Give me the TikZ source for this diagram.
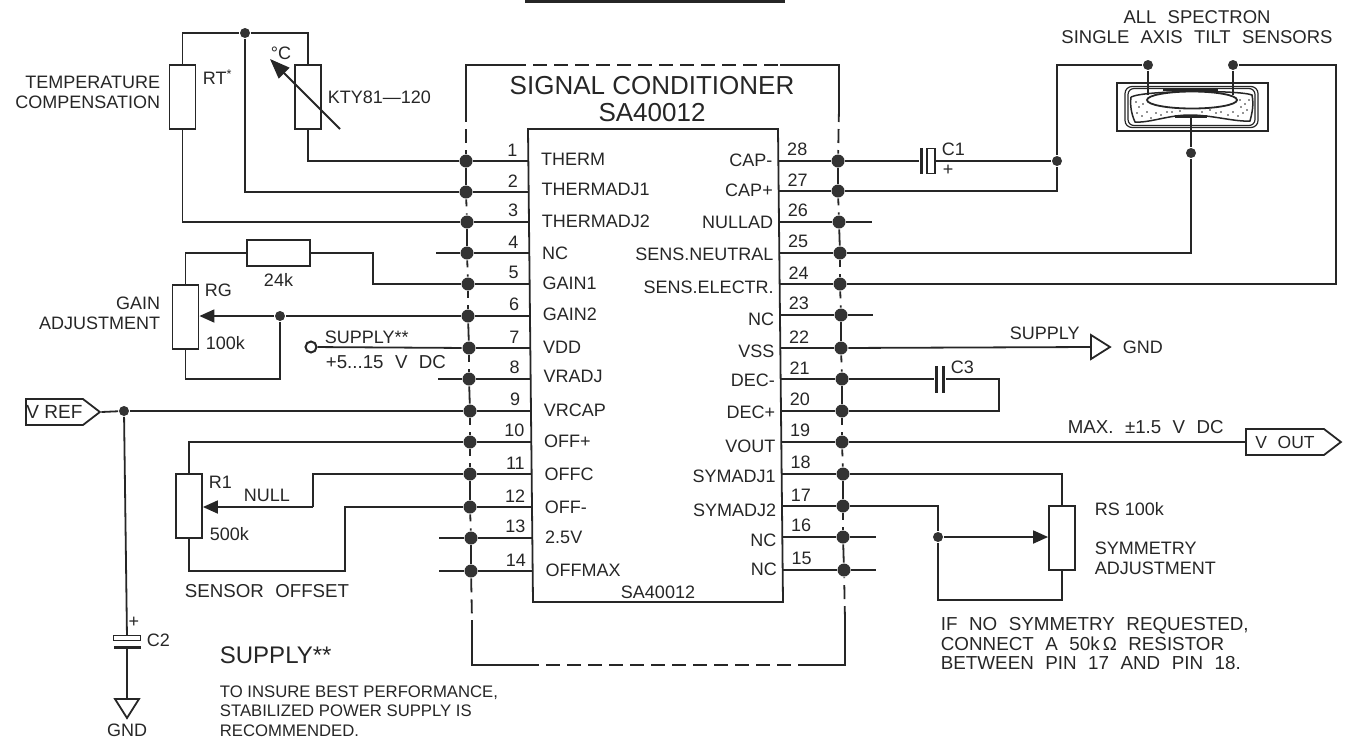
\documentclass[tikz,border=0pt]{standalone}
\usepackage{fontspec}
\setmainfont{Liberation Sans}
\newfontfamily\widefont[WordSpace=2.2]{Liberation Sans}
\usetikzlibrary{positioning,shapes,arrows.meta}
\tikzstyle{lab} = [inner sep=0pt,font=\fontsize{18}{20}\selectfont]
\tikzstyle{wide} = [inner sep=0pt,font=\widefont\fontsize{18.7}{20}\selectfont]
\tikzstyle{note} = [inner sep=0pt,align=left,anchor=west,font=\widefont\fontsize{18.8}{19.5}\selectfont]
\tikzstyle{res} = [rectangle,draw,fill=white,inner sep=0pt,minimum width=26pt,minimum height=64pt]
\tikzstyle{hres} = [res,minimum width=63pt,minimum height=26pt]
\tikzstyle{dot} = [circle,fill=black!80,inner sep=0pt,minimum size=13pt]
\tikzstyle{junc} = [dot,minimum size=10pt]
\tikzstyle{open} = [circle,draw,fill=white,line width=2pt,inner sep=0pt,minimum size=11pt]
\tikzstyle{plate} = [rectangle,fill,inner sep=0pt,minimum width=3pt,minimum height=26pt]
\tikzstyle{arrow} = [-{Triangle[length=15pt,width=13pt]}]
\tikzstyle{fdash} = [dash pattern=on 14pt off 7pt]
\tikzstyle{gap} = [dash pattern=on 7pt off 7pt on 20pt]
\tikzstyle{signalbox} = [signal,signal to=east,signal pointer angle=75,draw,inner sep=0pt,minimum height=26pt]

\begin{document}
\begin{tikzpicture}[%
x=1pt,y=-1pt,
line width=1.8pt,
black!85,
text=black!85,
]
\useasboundingbox (0,0) rectangle (1349,740);

\foreach \num/\py/\px/\pname/\ly in {1/161/466/THERM/159,2/192/466/THERMADJ1/189,3/222/467/THERMADJ2/221,4/253/467/NC/253,5/284/468/GAIN1/283,6/316/468/GAIN2/314,7/348/469/VDD/347,8/379/469/VRADJ/376,9/411/470/VRCAP/410,10/442/470/OFF+/441,11/474/470/OFFC/474,12/507/470/OFF-/507,13/538/471/2.5V/537,14/571/471/OFFMAX/570}
{
    \pgfmathsetmacro\ex{528+(\py-129)*5/473}
    \pgfmathsetmacro\off{\num>9?6:10}
    \node[dot] (p\num) at (\px,\py) {};
    \coordinate (e\num) at (\ex,\py);
    \draw (p\num) -- (e\num);
    \node[lab,anchor=south east] (n\num) at (\ex-\off,\py-4) {\num};
    \node[lab,anchor=west] (t\num) at (\ex+12,\ly) {\pname};
}
\foreach \num/\py/\px/\pname/\ly in {28/161/838/CAP-/160,27/191/838/CAP+/190,26/222/839/NULLAD/222,25/253/840/SENS.NEUTRAL/254,24/284/840/SENS.ELECTR./287,23/315/841/NC/319,22/348/841/VSS/351,21/379/842/DEC-/380,20/411/842/DEC+/412,19/442/842/VOUT/446,18/474/843/SYMADJ1/476,17/506/843/SYMADJ2/510,16/537/843/NC/540,15/570/844/NC/569}
{
    \pgfmathsetmacro\ex{778+(\py-129)*5/473}
    \node[dot] (p\num) at (\px,\py) {};
    \coordinate (e\num) at (\ex,\py);
    \draw (p\num) -- (e\num);
    \node[lab,anchor=south west] (n\num) at (\ex+8,\py-4) {\num};
    \node[lab,anchor=east] (t\num) at (\ex-5,\ly) {\pname};
}
\foreach \a/\b in {1/2,3/4,6/7,8/9,11/12,13/14,28/27,26/25,23/22,21/20,18/17,16/15}
    \draw (p\a) -- (p\b);
\foreach \a/\b in {2/3,4/5,5/6,7/8,9/10,10/11,12/13,27/26,25/24,24/23,22/21,20/19,19/18,17/16}
    \draw[gap] (p\a) -- (p\b);
\foreach \num/\sx in {4/436,8/438,13/439,14/439,26/872,23/873,16/876,15/876}
{
    \coordinate (s\num) at (\sx,0);
    \draw (p\num) -- (s\num |- p\num);
}

% chip
\coordinate (ictl) at (528,129);
\coordinate (ictr) at (778,129);
\coordinate (icbr) at (783,602);
\coordinate (icbl) at (533,602);
\draw (ictl) -- (ictr) -- (icbr) -- (icbl) -- cycle;
\node[lab,anchor=south] (icname) at (658,600) {SA40012};

% frame
\coordinate (ftl) at (466,65);
\coordinate (ftr) at (839,65);
\coordinate (fbl) at (472,665);
\coordinate (fbr) at (845,665);
\coordinate (fta) at (512,65);
\coordinate (ftb) at (780,65);
\coordinate (fla) at (466,108);
\coordinate (fra) at (839,108);
\coordinate (flb) at (472,620);
\coordinate (frb) at (845,620);
\coordinate (fba) at (525,665);
\coordinate (fbb) at (803,665);
\draw (fla) -- (ftl) -- (fta);
\draw[fdash] (fta) -- (ftb);
\draw (ftb) -- (ftr) -- (fra);
\draw[fdash] (fla) -- (p1);
\draw[fdash] (fra) -- (p28);
\draw[fdash] (p14) -- (flb);
\draw (flb) -- (fbl) -- (fba);
\draw[fdash] (fba) -- (fbb);
\draw (fbb) -- (fbr) -- (frb);
\draw[fdash] (frb) -- (p15);
\node[inner sep=0pt,font=\fontsize{26}{27}\selectfont,align=center] (title) at (652,99) {SIGNAL CONDITIONER\\SA40012};
\coordinate (bara) at (525,0);
\coordinate (barb) at (785,2.5);
\fill (bara) rectangle (barb);

% temperature
\node[res] (rt) at (182.5,97) {};
\node[res] (kty) at (308,97) {};
\node[junc] (tdot) at (245,33) {};
\coordinate (ta) at (340,129);
\coordinate (tb) at (270,59);
\draw (rt.north) |- (tdot) -| (kty.north);
\draw (tdot) |- (p2);
\draw (kty.south) |- (p1);
\draw (rt.south) |- (p3);
\draw[-{Triangle[length=20pt,width=15pt]}] (ta) -- (tb);
\node[lab] (deg) at (281,53) {°C};
\node[lab,anchor=west] (rtlab) at (202,77) {RT\textsuperscript{*}};
\node[lab,right=5pt of kty] (ktylab) {KTY81---120};
\node[lab,anchor=east,align=right] (tcomp) at (161,92) {TEMPERATURE\\COMPENSATION};

% gain
\node[res] (rg) at (185.5,317) {};
\node[hres] (r24) at (278.5,253) {};
\node[junc] (gdot) at (280,316) {};
\coordinate (ga) at (373,284);
\coordinate (gb) at (280,379);
\draw (rg.north) |- (r24);
\draw (r24) -| (ga) -- (p5);
\draw (p6) -- (gdot);
\draw[arrow] (gdot) -- (rg.east |- gdot);
\draw (rg.south) |- (gb) -- (gdot);
\node[lab,below=6pt of r24] (r24lab) {24k};
\node[lab,anchor=west] (rglab) at (204,290) {RG};
\node[lab,anchor=west] (rgval) at (205,343) {100k};
\node[lab,anchor=east,align=right] (gadj) at (161,313) {GAIN\\ADJUSTMENT};
\node[open] (vdd) at (311,347) {};
\draw (vdd) -- (p7);
\node[lab,anchor=west] (suplab) at (324,337) {SUPPLY**};
\node[wide,anchor=west] (vddlab) at (325,362) {+5...15 V DC};

% vref
\node[signalbox,minimum width=74pt,anchor=west,lab,inner sep=0pt,font=\fontsize{19}{20}\selectfont] (vref) at (25,412) {V REF};
\node[junc] (vdot) at (124,411) {};
\draw (vref.east) -- (vdot);
\draw (vdot) -- (p9);
\node[rectangle,draw,fill=white,inner sep=0pt,minimum width=27pt,minimum height=5pt,line width=1.2pt] (c2a) at (127,638) {};
\node[plate,minimum width=27pt,minimum height=3pt] (c2b) at (127,647) {};
\coordinate (gnda) at (127,699);
\draw (vdot) -- (c2a);
\draw (c2b) -- (gnda);
\draw (gnda) ++(-12,0) -- ++(24,0) -- ++(-12,19) -- cycle;
\node[lab,anchor=north] (gndb) at (127,723) {GND};
\node[lab] (c2p) at (134,622) {+};
\node[lab,anchor=west] (c2lab) at (146,640) {C2};

% offset
\node[res] (r1) at (189,506) {};
\coordinate (oa) at (313,507);
\coordinate (ob) at (345,571);
\draw (r1.north) |- (p10);
\draw (p11) -| (oa);
\draw[arrow] (oa) -- (r1.east |- oa);
\draw (r1.south) |- (ob) |- (p12);
\node[lab,anchor=west] (r1lab) at (208,482) {R1};
\node[lab,anchor=west] (nulllab) at (243,495) {NULL};
\node[lab,anchor=west] (r1val) at (209,534) {500k};
\node[wide,anchor=west] (offlab) at (184,591) {SENSOR OFFSET};

% note
\node[anchor=west,inner sep=0pt,font=\fontsize{24}{25}\selectfont] (suphead) at (219,655) {SUPPLY**};
\node[note,font=\fontsize{16.7}{19.5}\selectfont] (supnote) at (219,711) {TO INSURE BEST PERFORMANCE,\\STABILIZED POWER SUPPLY IS\\RECOMMENDED.};

% sensor
\node[rectangle,draw,inner sep=0pt,minimum width=151pt,minimum height=48pt,line width=1.2pt] (sens) at (1192.5,107) {};
\node[rectangle,draw,rounded corners=7pt,inner sep=0pt,minimum width=133pt,minimum height=41pt,line width=1.2pt] (sensb) at (1191.5,107) {};
\node[rectangle,draw,rounded corners=6pt,inner sep=0pt,minimum width=127pt,minimum height=37pt,line width=1.2pt] (sensc) at (1191.5,107) {};
\draw[fill=white,line width=1.5pt] (1131,97) .. controls (1145,90) and (1240,90) .. (1252,95) .. controls (1254,105) and (1252,113) .. (1250,121) .. controls (1235,122) and (1212,115) .. (1190,115) .. controls (1168,115) and (1150,123) .. (1135,122) .. controls (1131,113) and (1130,105) .. (1131,97);
\foreach \sx/\sy in {1136/102,1139/107,1143/104,1137/113,1142/116,1147/112,1151/118,1156/113,1161/115,1167/112,1172/112,1180/111,1202/112,1210/110,1216/113,1221/112,1228/115,1233/112,1238/116,1241/107,1245/104,1247/110,1243/113,1249/100,1240/100}
    \fill (\sx,\sy) circle (0.9pt);
\node[ellipse,draw,fill=white,inner sep=0pt,minimum width=90pt,minimum height=17pt] (bubble) at (1192,100) {};
\coordinate (skta) at (1163,89);
\coordinate (sktb) at (1218,89);
\coordinate (sa) at (1148,95);
\coordinate (sb) at (1233,95);
\coordinate (sc) at (1175,116.5);
\coordinate (sd) at (1207,116.5);
\coordinate (se) at (1191,117);
\node[junc] (sdl) at (1148,65) {};
\node[junc] (sdr) at (1233,65) {};
\node[junc] (sdb) at (1191,153) {};
\node[junc] (cdot) at (1057,161) {};
\draw[line width=3pt] (skta) -- (sktb);
\draw[line width=2.5pt] (sdl) -- (sa);
\draw[line width=2.5pt] (sdr) -- (sb);
\draw[line width=3pt] (sc) -- (sd);
\draw[line width=2.5pt] (se) -- (sdb);
\draw (sdb) |- (p25);
\draw (cdot) |- (sdl);
\draw (cdot) |- (p27);
\coordinate (sf) at (1336,284);
\draw (sdr) -| (sf) -- (p24);
\node[plate] (c1a) at (921,161) {};
\node[rectangle,draw,fill=white,inner sep=0pt,minimum width=8pt,minimum height=25pt,line width=1.2pt] (c1b) at (931,161) {};
\draw (p28) -- (c1a);
\draw (c1b) -- (cdot);
\node[lab,anchor=west] (c1lab) at (941,149) {C1};
\node[lab] (c1p) at (948,170) {+};
\node[wide,align=center,font=\widefont\fontsize{18.5}{20}\selectfont] (senslab) at (1197,27) {ALL SPECTRON\\SINGLE AXIS TILT SENSORS};

% vss
\coordinate (gndc) at (1091,347);
\draw (p22) -- (gndc);
\draw (gndc) ++(0,-12) -- ++(0,24) -- ++(19,-12) -- cycle;
\node[lab,anchor=west] (gndd) at (1122,347) {GND};
\node[lab,anchor=west] (vsslab) at (1009,333) {SUPPLY};

% dec
\node[plate,minimum height=27pt] (c3a) at (936.5,379) {};
\node[plate,minimum height=27pt] (c3b) at (943.5,379) {};
\coordinate (c3c) at (999,411);
\draw (p21) -- (c3a);
\draw (c3b) -| (c3c) -- (p20);
\node[lab,anchor=west] (c3lab) at (950,367) {C3};

% vout
\node[signalbox,minimum width=95pt,anchor=west,wide,font=\widefont\fontsize{17.5}{20}\selectfont] (vout) at (1245,442) {V OUT};
\draw (p19) -- (vout.west);
\node[wide,anchor=west] (voutlab) at (1067,427) {MAX. ±1.5 V DC};

% symmetry
\node[res] (rs) at (1062,538) {};
\node[junc] (sydot) at (938,537) {};
\coordinate (sya) at (938,600);
\draw (rs.north) |- (p18);
\draw (p17) -| (sydot);
\draw[arrow] (sydot) -- (rs.west |- sydot);
\draw (sydot) -- (sya) -| (rs.south);
\node[lab,anchor=west] (rslab) at (1094,509) {RS 100k};
\node[lab,anchor=west,align=left] (rsadj) at (1094,558) {SYMMETRY\\ADJUSTMENT};
\node[note] (synote) at (940,644) {IF NO SYMMETRY REQUESTED,\\CONNECT A 50k\,Ω RESISTOR\\BETWEEN PIN 17 AND PIN 18.};

\end{tikzpicture}
\end{document}
